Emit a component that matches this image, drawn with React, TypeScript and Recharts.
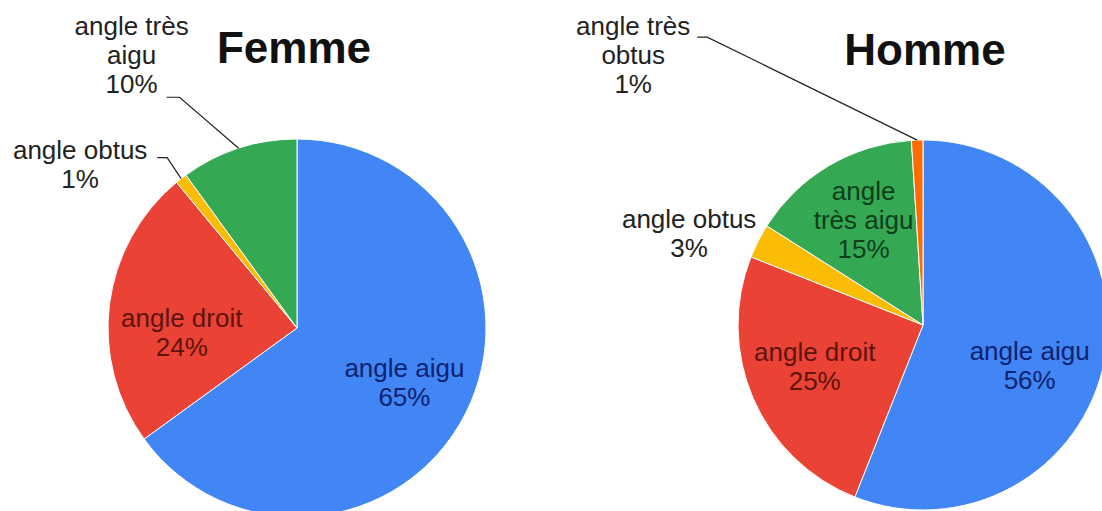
import { Cell, Pie, PieChart } from "recharts";

// data (percent)
const femmeNames = ["angle aigu", "angle droit", "angle obtus", "angle très aigu"];
const femmeValues = [65, 24, 1, 10];
const hommeNames = ["angle aigu", "angle droit", "angle obtus", "angle très aigu", "angle très obtus"];
const hommeValues = [56, 25, 3, 15, 1];

const SLICE_COLORS: Record<string, string> = {
  "angle aigu": "#4285F4",
  "angle droit": "#EA4335",
  "angle obtus": "#FBBC04",
  "angle très aigu": "#34A853",
  "angle très obtus": "#FF6D01",
};
// darker text drawn on top of each slice
const INSIDE_TEXT: Record<string, string> = {
  "angle aigu": "#0d2270",
  "angle droit": "#5e130c",
  "angle très aigu": "#0f3e1a",
};

const FONT = "'Liberation Sans', Arial, sans-serif";
const FONT_SIZE = 26;
const LINE_H = 29;
const RADIAN = Math.PI / 180;

type LabelCfg = {
  lines: string[];
  inside: boolean;
  dx: number; // inside: nudge from polar point; outside: text center from slice edge
  dy: number;
  leader?: [number, number, number, number]; // hstart x,y / elbow x,y relative to slice edge
};

const femmeLabels: Record<string, LabelCfg> = {
  "angle aigu": { lines: ["angle aigu"], inside: true, dx: 3, dy: -4 },
  "angle droit": { lines: ["angle droit"], inside: true, dx: 1, dy: 14 },
  "angle obtus": { lines: ["angle obtus"], inside: false, dx: -101, dy: -20, leader: [-24, -21, -14, -21] },
  "angle très aigu": { lines: ["angle très", "aigu"], inside: false, dx: -107, dy: -113, leader: [-72, -51, -59, -51] },
};

const hommeLabels: Record<string, LabelCfg> = {
  "angle aigu": { lines: ["angle aigu"], inside: true, dx: -6, dy: 14 },
  "angle droit": { lines: ["angle droit"], inside: true, dx: -3, dy: -10 },
  "angle obtus": { lines: ["angle obtus"], inside: false, dx: -69, dy: -13 },
  "angle très aigu": { lines: ["angle", "très aigu"], inside: true, dx: -1, dy: -26 },
  "angle très obtus": { lines: ["angle très", "obtus"], inside: false, dx: -284, dy: -105, leader: [-220, -103, -210, -103] },
};

const toRows = (names: string[], values: number[]) =>
  names.map((name, i) => ({ name, value: values[i] }));

const femmeData = toRows(femmeNames, femmeValues);
const hommeData = toRows(hommeNames, hommeValues);

const makeLabel = (cfgs: Record<string, LabelCfg>) => (props: any) => {
  const { cx, cy, midAngle, outerRadius, name, percent } = props;
  const cfg = cfgs[name];
  if (!cfg) return null;
  const cos = Math.cos(-midAngle * RADIAN);
  const sin = Math.sin(-midAngle * RADIAN);
  const lines = [...cfg.lines, `${Math.round(percent * 100)}%`];
  let x: number;
  let y: number;
  let leader: JSX.Element | null = null;
  if (cfg.inside) {
    const r = outerRadius * 0.62;
    x = cx + r * cos + cfg.dx;
    y = cy + r * sin + cfg.dy;
  } else {
    const ex = cx + outerRadius * cos;
    const ey = cy + outerRadius * sin;
    x = ex + cfg.dx;
    y = ey + cfg.dy;
    if (cfg.leader) {
      const [hx, hy, bx, by] = cfg.leader;
      leader = (
        <polyline
          points={`${ex + hx},${ey + hy} ${ex + bx},${ey + by} ${ex},${ey}`}
          fill="none"
          stroke="#222"
          strokeWidth={1.2}
        />
      );
    }
  }
  const color = cfg.inside ? INSIDE_TEXT[name] : "#222";
  return (
    <g key={`lbl-${name}`}>
      {leader}
      <text x={x} y={y} textAnchor="middle" fill={color} fontFamily={FONT} fontSize={FONT_SIZE}>
        {lines.map((ln, i) => (
          <tspan key={i} x={x} dy={i === 0 ? 0 : LINE_H}>
            {ln}
          </tspan>
        ))}
      </text>
    </g>
  );
};

export default function App() {
  return (
    <div style={{ position: "absolute", left: 0, top: 0, width: 1102, height: 511, background: "#fff", overflow: "hidden" }}>
      <PieChart width={1102} height={511} margin={{ top: 0, right: 0, bottom: 0, left: 0 }}>
        <Pie
          data={femmeData}
          dataKey="value"
          nameKey="name"
          cx={297}
          cy={328}
          outerRadius={189}
          startAngle={90}
          endAngle={-270}
          stroke="#fff"
          strokeWidth={1}
          labelLine={false}
          label={makeLabel(femmeLabels)}
          isAnimationActive={false}
        >
          {femmeData.map((d) => (
            <Cell key={d.name} fill={SLICE_COLORS[d.name]} />
          ))}
        </Pie>
        <Pie
          data={hommeData}
          dataKey="value"
          nameKey="name"
          cx={923}
          cy={325}
          outerRadius={185}
          startAngle={90}
          endAngle={-270}
          stroke="#fff"
          strokeWidth={1}
          labelLine={false}
          label={makeLabel(hommeLabels)}
          isAnimationActive={false}
        >
          {hommeData.map((d) => (
            <Cell key={d.name} fill={SLICE_COLORS[d.name]} />
          ))}
        </Pie>
      </PieChart>
      {/* titles */}
      <svg width={1102} height={511} style={{ position: "absolute", left: 0, top: 0, pointerEvents: "none" }}>
        <text x={294} y={63} textAnchor="middle" fontFamily={FONT} fontSize={44} fontWeight="bold" fill="#111">
          Femme
        </text>
        <text x={925} y={65} textAnchor="middle" fontFamily={FONT} fontSize={44} fontWeight="bold" fill="#111">
          Homme
        </text>
      </svg>
    </div>
  );
}
